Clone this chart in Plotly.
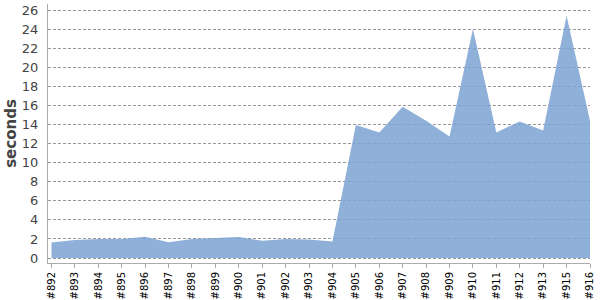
import plotly.graph_objects as go

builds = ["#892", "#893", "#894", "#895", "#896", "#897", "#898", "#899", "#900", "#901",
          "#902", "#903", "#904", "#905", "#906", "#907", "#908", "#909", "#910", "#911",
          "#912", "#913", "#915", "#916"]
seconds = [1.64, 1.9, 2.0, 2.0, 2.23, 1.65, 2.0, 2.1, 2.2, 1.8,
           2.0, 1.95, 1.74, 13.95, 13.17, 15.85, 14.4, 12.75, 24.0, 13.17,
           14.3, 13.38, 25.4, 14.4]
y_ticks = list(range(0, 27, 2))

fig = go.Figure()
fig.add_trace(go.Scatter(
    x=list(range(len(builds))), y=seconds, mode="lines", fill="tozeroy",
    line=dict(width=0, color="rgba(123,162,210,0.85)"),
    fillcolor="rgba(123,162,210,0.85)", hoverinfo="skip", showlegend=False,
))

fig.update_layout(
    width=600, height=300,
    margin=dict(l=48, r=10, t=4, b=37, autoexpand=False),
    plot_bgcolor="white", paper_bgcolor="white",
    font=dict(family="DejaVu Sans", color="#444"),
)
fig.update_xaxes(
    range=[-0.15, len(builds) - 1], automargin=False,
    tickmode="array", tickvals=list(range(len(builds))), ticktext=builds,
    tickangle=-90, tickfont=dict(size=10, color="black"),
    ticks="outside", ticklen=4, tickcolor="#aaa",
    showline=True, linecolor="#aaa", linewidth=1,
    showgrid=False, zeroline=False,
)
fig.update_yaxes(
    range=[-0.52, 26.63], automargin=True,
    tickmode="array", tickvals=y_ticks,
    tickfont=dict(size=13, color="#444"),
    ticks="outside", ticklen=6, tickcolor="rgba(0,0,0,0)",
    showline=True, linecolor="#aaa", linewidth=1,
    showgrid=True, gridcolor="#999", griddash="3px,2px", gridwidth=1,
    zeroline=False,
    title=dict(text="<b>seconds</b>", font=dict(size=15, color="#444"), standoff=1),
)

fig.write_html("out.html")
